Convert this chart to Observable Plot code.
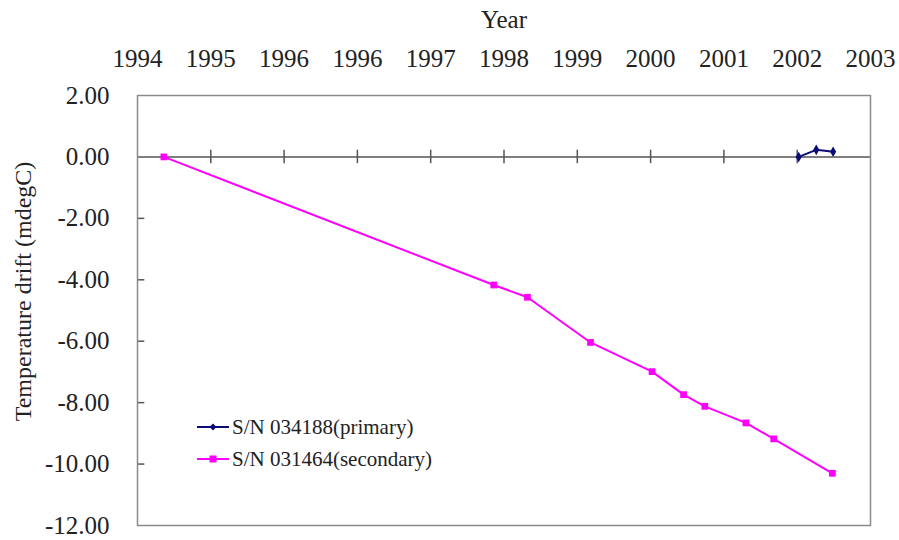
<!DOCTYPE html>
<html>
<head>
<meta charset="utf-8">
<script src="https://cdn.jsdelivr.net/npm/d3@7"></script>
<script src="https://cdn.jsdelivr.net/npm/@observablehq/plot@0.6"></script>
<style>
  body { margin: 0; background: #fff; }
  #chart { position: relative; width: 899px; height: 540px; font-family: "Times New Roman", "Liberation Serif", "DejaVu Serif", serif; }
  #chart svg, #chart svg text { font-family: "Times New Roman", "Liberation Serif", "DejaVu Serif", serif !important; }
  .legend { position: absolute; left: 196px; top: 411px; font-size: 21px; color: #222; line-height: 1; }
  .legend .row { display: flex; align-items: center; height: 32px; }
  .legend svg { margin-right: 2px; }
</style>
</head>
<body>
<div id="chart"></div>
<script>
// Top axis labels, one per major tick
const yearLabels = ["1994", "1995", "1996", "1996", "1997", "1998", "1999", "2000", "2001", "2002", "2003"];
const yTicks = [2, 0, -2, -4, -6, -8, -10, -12];

// Measurement times, in units of major tick intervals along the year axis
const primaryX = [9.02, 9.26, 9.49];
const primaryY = [0.00, 0.23, 0.17];
const secondaryX = [0.36, 4.86, 5.32, 6.18, 7.02, 7.45, 7.74, 8.30, 8.68, 9.48];
const secondaryY = [0.00, -4.17, -4.57, -6.04, -6.99, -7.74, -8.12, -8.66, -9.18, -10.30];

const primaryName = "S/N 034188(primary)";
const secondaryName = "S/N 031464(secondary)";
const primaryColor = "#0c0c78";
const secondaryColor = "#ff00ff";

const primary = primaryX.map((x, i) => ({x, y: primaryY[i]}));
const secondary = secondaryX.map((x, i) => ({x, y: secondaryY[i]}));

const serif = "'Times New Roman', 'Liberation Serif', 'DejaVu Serif', serif";

const plot = Plot.plot({
  width: 899,
  height: 540,
  marginLeft: 137,
  marginRight: 29,
  marginTop: 95,
  marginBottom: 15,
  style: {fontFamily: serif, fontSize: "25px", background: "#fff", color: "#222"},
  x: {domain: [0, 10]},
  y: {domain: [-12, 2]},
  marks: [
    Plot.ruleY([0], {stroke: "#555", strokeWidth: 1.5}),
    Plot.ruleX(d3.range(1, 10), {y1: -0.22, y2: 0.22, stroke: "#555", strokeWidth: 1.5}),
    Plot.ruleY([-2, -4, -6, -8, -10], {x1: 0, x2: 0.1, stroke: "#555", strokeWidth: 1.5}),
    Plot.frame({stroke: "#8a8a8a", strokeWidth: 1.5}),
    Plot.axisX(d3.range(0, 11), {anchor: "top", tickSize: 0, tickPadding: 29, tickFormat: (i) => yearLabels[i], fontSize: 25, label: null}),
    Plot.axisY(yTicks, {anchor: "left", tickSize: 0, tickPadding: 28, tickFormat: (d) => d.toFixed(2), fontSize: 25, label: null}),
    Plot.text(["Year"], {frameAnchor: "top", lineAnchor: "bottom", dy: -68, fontSize: 25, fill: "#222"}),
    Plot.text(["Temperature drift (mdegC)"], {frameAnchor: "left", textAnchor: "middle", dx: -114, dy: -19, rotate: -90, fontSize: 24, fill: "#222"}),
    Plot.line(secondary, {x: "x", y: "y", stroke: secondaryColor, strokeWidth: 2}),
    Plot.dot(secondary, {x: "x", y: "y", symbol: "square", r: 3.8, fill: secondaryColor}),
    Plot.line(primary, {x: "x", y: "y", stroke: primaryColor, strokeWidth: 2}),
    Plot.dot(primary, {x: "x", y: "y", symbol: "diamond", r: 3.2, fill: primaryColor})
  ]
});

const chart = document.getElementById("chart");
chart.appendChild(plot);

// Legend inside the plot area
const legend = document.createElement("div");
legend.className = "legend";
legend.innerHTML = `
  <div class="row">
    <svg width="34" height="12"><line x1="1" y1="6" x2="33" y2="6" stroke="${primaryColor}" stroke-width="2"/><path d="M17,2.5L20.5,6L17,9.5L13.5,6Z" fill="${primaryColor}"/></svg>
    <span>${primaryName}</span>
  </div>
  <div class="row">
    <svg width="34" height="12"><line x1="1" y1="6" x2="33" y2="6" stroke="${secondaryColor}" stroke-width="2"/><rect x="13.5" y="2.5" width="7" height="7" fill="${secondaryColor}"/></svg>
    <span>${secondaryName}</span>
  </div>`;
chart.appendChild(legend);
</script>
</body>
</html>
